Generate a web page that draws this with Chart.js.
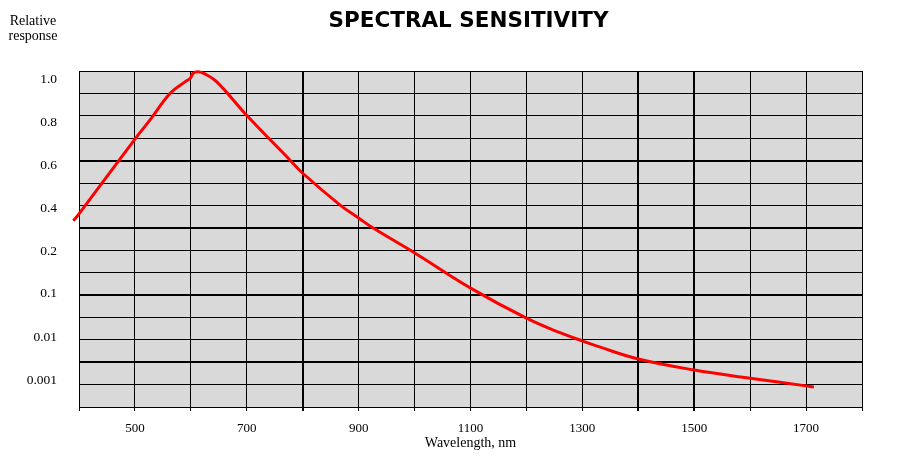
<!DOCTYPE html>
<html>
<head>
<meta charset="utf-8">
<title>Spectral sensitivity</title>
<script src="https://cdn.jsdelivr.net/npm/chart.js@4/dist/chart.umd.min.js"></script>
<style>
  html, body { margin: 0; padding: 0; background: #fff; }
  #wrap { width: 899px; height: 468px; }
</style>
</head>
<body>
<div id="wrap"><canvas id="chart" width="899" height="468"></canvas></div>
<script>
// wavelength (nm) and relative response
const wavelengths = [390, 401, 500, 527, 563, 590, 599, 604, 613, 625, 646, 701, 777, 800, 867, 901, 926,
  1001, 1101, 1200, 1260, 1301, 1332, 1400, 1500, 1600, 1700, 1714];
const response = [0.341, 0.377, 0.721, 0.810, 0.934, 0.988, 1.004, 1.027, 1.034, 1.024, 0.988, 0.828,
  0.624, 0.562, 0.414, 0.352, 0.307, 0.193, 0.108, 0.0268, 0.0125, 0.0080, 0.0058, 0.00308,
  0.00171, 0.00110, 0.00073, 0.00069];

// y axis labels, and where they sit (in grid divisions counted from the bottom)
const tickLabels = ["1.0", "0.8", "0.6", "0.4", "0.2", "0.1", "0.01", "0.001"];
const tickValues = [1.0, 0.8, 0.6, 0.4, 0.2, 0.1, 0.01, 0.001];
const tickSlots = [14.64, 12.72, 10.80, 8.88, 6.96, 5.09, 3.125, 1.205];

// x axis labels
const xLabels = [500, 700, 900, 1100, 1300, 1500, 1700];

const gridRows = [0, 1, 2, 3, 4, 5, 6, 7, 8, 9, 10, 11, 12, 13, 14, 15];
const thickRows = [2, 5, 8, 11];
const thickCols = [800, 1400, 1500];

const serif = "'Liberation Serif', 'Times New Roman', serif";

// the printed scale is linear above 0.2 and logarithmic below it
function toAxis(r) {
  let i = 0;
  while (i < tickValues.length - 2 && r < tickValues[i + 1]) i++;
  const a = tickValues[i], b = tickValues[i + 1];
  const t = b < 0.2 ? Math.log(r / a) / Math.log(b / a) : (r - a) / (b - a);
  return tickSlots[i] + t * (tickSlots[i + 1] - tickSlots[i]);
}

const points = wavelengths.map((w, i) => ({ x: w, y: toAxis(response[i]) }));

const paperPlugin = {
  id: "paper",
  beforeDraw(chart) {
    const { ctx, chartArea: a } = chart;
    ctx.save();
    ctx.fillStyle = "#fff";
    ctx.fillRect(0, 0, chart.width, chart.height);
    ctx.fillStyle = "#d9d9d9";
    ctx.fillRect(a.left, a.top, a.right - a.left, a.bottom - a.top);
    ctx.restore();
  },
  afterDraw(chart) {
    const ctx = chart.ctx;
    ctx.save();
    ctx.fillStyle = "#000";
    ctx.textAlign = "center";
    ctx.textBaseline = "middle";
    ctx.font = "bold 21.5px 'DejaVu Sans', Verdana, sans-serif";
    ctx.fillText("SPECTRAL SENSITIVITY", 468.5, 21);
    ctx.font = "14px " + serif;
    ctx.fillText("Relative", 33, 21);
    ctx.fillText("response", 33, 36);
    ctx.restore();
  }
};

const ctx = document.getElementById("chart").getContext("2d");

new Chart(ctx, {
  type: "line",
  data: {
    datasets: [{
      data: points,
      borderColor: "#ff0000",
      borderWidth: 3,
      pointRadius: 0,
      fill: false,
      clip: false,
      tension: 0.4
    }]
  },
  options: {
    responsive: false,
    animation: false,
    devicePixelRatio: 1,
    layout: { padding: { top: 71, right: 37, left: 0, bottom: 0 } },
    plugins: {
      legend: { display: false },
      tooltip: { enabled: false },
      title: { display: false }
    },
    scales: {
      x: {
        type: "linear",
        min: 400,
        max: 1800,
        afterBuildTicks(scale) {
          const t = [];
          for (let v = 400; v <= 1800; v += 100) t.push({ value: v });
          scale.ticks = t;
        },
        ticks: {
          autoSkip: false,
          maxRotation: 0,
          padding: 10,
          color: "#000",
          font: { family: serif, size: 13 },
          callback: (v) => (xLabels.includes(v) ? String(v) : "")
        },
        grid: {
          color: "#000",
          lineWidth: (c) => (thickCols.includes(c.tick && c.tick.value) ? 2 : 1),
          tickLength: 4
        },
        border: { display: false },
        title: {
          display: true,
          text: "Wavelength, nm",
          color: "#000",
          font: { family: serif, size: 14 },
          padding: { top: 0, bottom: 16.5 }
        },
        afterFit(scale) { scale.height = 61; }
      },
      y: {
        type: "linear",
        min: 0,
        max: 15,
        afterBuildTicks(scale) {
          scale.ticks = gridRows.concat(tickSlots).map((v) => ({ value: v }));
        },
        ticks: {
          autoSkip: false,
          padding: 22,
          color: "#000",
          font: { family: serif, size: 13.5 },
          callback: (v) => {
            const i = tickSlots.indexOf(v);
            return i >= 0 ? tickLabels[i] : "";
          }
        },
        grid: {
          color: (c) => (c.tick && tickSlots.includes(c.tick.value) ? "rgba(0,0,0,0)" : "#000"),
          lineWidth: (c) => (c.tick && thickRows.includes(c.tick.value) ? 2 : 1),
          drawTicks: false
        },
        border: { display: false },
        afterFit(scale) { scale.width = 79; }
      }
    }
  },
  plugins: [paperPlugin]
});
</script>
</body>
</html>
